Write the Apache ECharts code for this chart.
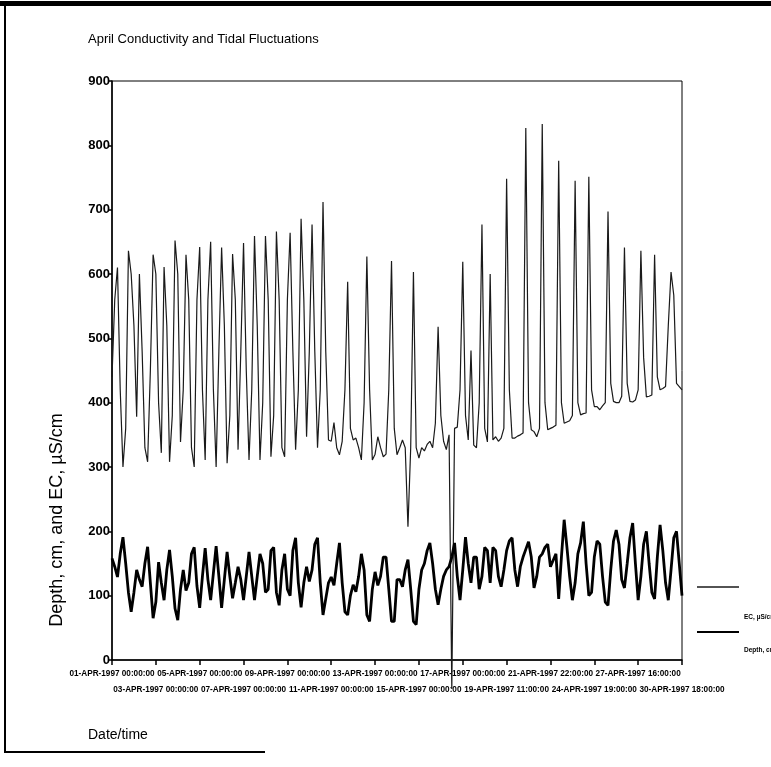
<!DOCTYPE html>
<html>
<head>
<meta charset="utf-8">
<script src="https://cdn.jsdelivr.net/npm/echarts@6/dist/echarts.min.js"></script>
<style>
  html, body { margin: 0; padding: 0; background: #fff; }
  #chart { width: 771px; height: 767px; }
</style>
</head>
<body>
<div id="chart"></div>
<script>
// tick labels, one every 16 samples
const tickLabels = [
  '01-APR-1997 00:00:00', '03-APR-1997 00:00:00', '05-APR-1997 00:00:00',
  '07-APR-1997 00:00:00', '09-APR-1997 00:00:00', '11-APR-1997 00:00:00',
  '13-APR-1997 00:00:00', '15-APR-1997 00:00:00', '17-APR-1997 00:00:00',
  '19-APR-1997 11:00:00', '21-APR-1997 22:00:00', '24-APR-1997 19:00:00',
  '27-APR-1997 16:00:00', '30-APR-1997 18:00:00'
];
const samplesPerTick = 16;

// EC, uS/cm
const ecValues = [
  440, 560, 610, 420, 300, 360, 636, 600, 520, 378,
  600, 480, 330, 308, 450, 630, 600, 400, 322, 611,
  520, 308, 380, 652, 600, 339, 420, 630, 560, 330,
  300, 560, 642, 420, 311, 560, 650, 420, 300, 480,
  641, 520, 306, 380, 631, 560, 327, 480, 648, 450,
  311, 420, 659, 520, 311, 400, 659, 560, 316, 380,
  666, 560, 330, 316, 560, 664, 480, 327, 420, 686,
  560, 347, 480, 677, 480, 330, 420, 712, 480, 342,
  340, 369, 330, 319, 340, 420, 588, 360, 342, 345,
  330, 311, 400, 627, 420, 311, 320, 347, 330, 316,
  320, 420, 620, 360, 319, 330, 342, 330, 207, 330,
  603, 330, 314, 330, 325, 335, 340, 330, 368, 518,
  380, 340, 327, 350, -45, 360, 362, 420, 619, 380,
  342, 481, 334, 330, 400, 677, 360, 339, 600, 342,
  347, 340, 345, 360, 748, 420, 345, 345, 348, 350,
  353, 827, 400, 358, 355, 347, 360, 833, 400, 358,
  360, 362, 365, 776, 400, 368, 370, 372, 380, 745,
  400, 381, 383, 384, 751, 420, 394, 394, 389, 395,
  400, 697, 430, 402, 400, 400, 410, 641, 430, 402,
  401, 404, 420, 636, 470, 409, 410, 412, 630, 440,
  420, 422, 425, 520, 603, 567, 430, 425, 420
];

// Depth, cm
const depthValues = [
  158, 145, 129, 165, 191, 150, 105, 75, 105, 140,
  125, 114, 150, 176, 120, 65, 90, 152, 120, 93,
  140, 171, 130, 80, 62, 110, 140, 108, 120, 165,
  175, 115, 81, 130, 174, 125, 93, 135, 177, 130,
  81, 125, 168, 130, 96, 120, 145, 125, 93, 130,
  168, 130, 93, 130, 165, 150, 105, 110, 170, 175,
  105, 85, 140, 165, 110, 100, 170, 190, 120, 82,
  120, 145, 122, 140, 180, 190, 120, 70, 95, 120,
  129, 116, 150, 182, 120, 75, 70, 100, 117, 106,
  130, 165, 140, 70, 60, 110, 137, 116, 130, 160,
  160, 110, 60, 60, 125, 125, 114, 140, 156, 110,
  60, 55, 110, 140, 150, 170, 182, 150, 110, 86,
  110, 130, 140, 145, 160, 182, 130, 93, 140, 191,
  150, 120, 160, 160, 110, 130, 175, 170, 120, 175,
  170, 130, 114, 140, 170, 185, 190, 140, 114, 145,
  160, 172, 184, 160, 112, 130, 160, 165, 175, 180,
  145, 155, 165, 95, 160, 218, 176, 130, 93, 120,
  165, 182, 215, 150, 100, 105, 160, 185, 180, 130,
  90, 85, 140, 185, 202, 180, 125, 112, 150, 190,
  213, 150, 93, 130, 180, 200, 150, 105, 95, 160,
  210, 170, 120, 93, 140, 190, 200, 150, 100
];

const sampleIndex = ecValues.map((v, i) => i);
const font = 'Liberation Sans, Arial, sans-serif';

const chart = echarts.init(document.getElementById('chart'), null, { renderer: 'canvas' });

// legend text sits below the legend line, so push it down with an empty first line
function legendItem(name, top, gap, lineWidth) {
  return {
    data: [name],
    left: 697,
    top: top,
    padding: 0,
    icon: 'rect',
    itemWidth: 42,
    itemHeight: lineWidth,
    formatter: (n) => '{gap| }\n{t|' + n + '}',
    textStyle: {
      rich: {
        gap: { lineHeight: gap, fontSize: 6 },
        t: { fontFamily: font, fontSize: 6.5, fontWeight: 'bold', color: '#000', lineHeight: 8 }
      }
    }
  };
}

// the date labels are staggered on two rows: even ticks on top, odd ticks below
function dateAxis(row) {
  const first = row * samplesPerTick;
  return {
    type: 'category',
    boundaryGap: false,
    data: sampleIndex,
    position: 'bottom',
    axisLine: { show: row === 0, lineStyle: { color: '#000', width: 1.5 } },
    axisTick: {
      show: row === 0,
      interval: (i) => i % samplesPerTick === 0,
      length: 5,
      lineStyle: { color: '#000', width: 1.5 }
    },
    axisLabel: {
      interval: (i) => i % (2 * samplesPerTick) === first,
      formatter: (val, idx) => tickLabels[idx / samplesPerTick],
      fontFamily: font,
      fontSize: 8.2,
      fontWeight: 'bold',
      color: '#000',
      margin: row === 0 ? 10 : 26
    },
    splitLine: { show: false }
  };
}

const option = {
  animation: false,
  backgroundColor: '#fff',
  title: {
    text: 'April Conductivity and Tidal Fluctuations',
    left: 83,
    top: 28,
    textStyle: { fontFamily: font, fontSize: 13, fontWeight: 'normal', color: '#000' }
  },
  grid: {
    left: 112,
    right: 89,
    top: 81,
    bottom: 107,
    show: true,
    borderColor: '#000',
    borderWidth: 1
  },
  legend: [
    legendItem('EC, µS/cm', 580, 60, 1.5),
    legendItem('Depth, cm', 625, 36, 2)
  ],
  xAxis: [dateAxis(0), dateAxis(1)],
  yAxis: {
    type: 'value',
    min: 0,
    max: 900,
    interval: 100,
    axisLine: { show: true, lineStyle: { color: '#000', width: 1.5 } },
    axisTick: { show: true, length: 4, lineStyle: { color: '#000', width: 1.5 } },
    axisLabel: { fontFamily: font, fontSize: 13, fontWeight: 'bold', color: '#000', margin: 2 },
    splitLine: { show: false }
  },
  series: [
    {
      name: 'EC, µS/cm',
      type: 'line',
      data: ecValues,
      symbol: 'none',
      clip: false,
      lineStyle: { color: '#1a1a1a', width: 1.2 },
      itemStyle: { color: '#1a1a1a' }
    },
    {
      name: 'Depth, cm',
      type: 'line',
      data: depthValues,
      symbol: 'none',
      lineStyle: { color: '#000', width: 2.8 },
      itemStyle: { color: '#000' }
    }
  ],
  graphic: [
    {
      type: 'text',
      x: 57,
      y: 520,
      rotation: Math.PI / 2,
      style: {
        text: 'Depth, cm, and EC, µS/cm',
        fontFamily: font,
        fontSize: 18,
        fill: '#000',
        textAlign: 'center',
        textVerticalAlign: 'middle'
      }
    },
    {
      type: 'text',
      x: 88,
      y: 728,
      style: { text: 'Date/time', fontFamily: font, fontSize: 14, fill: '#000' }
    },
    // scanned page frame
    { type: 'rect', shape: { x: 0, y: 1, width: 771, height: 5 }, style: { fill: '#000' } },
    { type: 'line', shape: { x1: 5, y1: 4, x2: 5, y2: 753 }, style: { stroke: '#000', lineWidth: 2 } },
    { type: 'line', shape: { x1: 5, y1: 752, x2: 265, y2: 752 }, style: { stroke: '#000', lineWidth: 2 } }
  ]
};

chart.setOption(option);
</script>
</body>
</html>
